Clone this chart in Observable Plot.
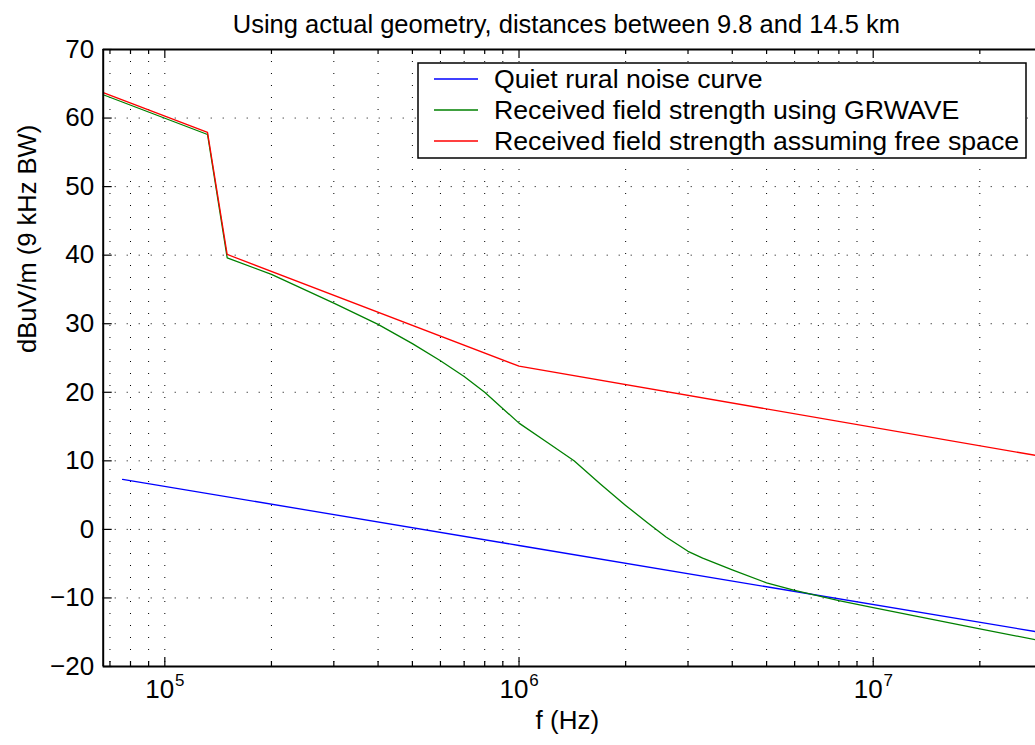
<!DOCTYPE html>
<html><head><meta charset="utf-8">
<script src="https://cdn.jsdelivr.net/npm/d3@7"></script>
<script src="https://cdn.jsdelivr.net/npm/@observablehq/plot@0.6"></script>
<style>body{margin:0;background:#fff;}</style>
</head><body><div id="chart"></div>
<script>
const title = "Using actual geometry, distances between 9.8 and 14.5 km";
const xLabel = "f (Hz)";
const yLabel = "dBuV/m (9 kHz BW)";
const seriesNames = ["Quiet rural noise curve", "Received field strength using GRWAVE", "Received field strength assuming free space"];
const seriesColors = ["#0000ff", "#008000", "#ff0000"];

const noiseFreq = [7.6e4, 1e6, 2.87e7];
const noiseVal = [7.3, -2.35, -14.9];

const grwaveFreq = [6.7e4, 1.32e5, 1.5e5, 2e5, 3e5, 4e5, 5e5, 6e5, 7e5, 8e5, 1e6, 1.2e6, 1.43e6, 1.7e6, 2e6, 2.3e6, 2.6e6, 3e6, 3.3e6, 4e6, 5e6, 6e6, 8e6, 1e7, 2e7, 2.87e7];
const grwaveVal = [63.4, 57.6, 39.6, 37.2, 33.0, 29.9, 27.1, 24.6, 22.3, 20.0, 15.5, 12.7, 10.0, 6.6, 3.5, 1.0, -1.1, -3.2, -4.2, -5.9, -7.8, -8.9, -10.4, -11.4, -14.5, -16.1];

const freeFreq = [6.7e4, 1.32e5, 1.5e5, 1e6, 2.87e7];
const freeVal = [63.7, 57.9, 40.1, 23.8, 10.8];

const xDomain = [66990, 2.872e7];
const yDomain = [-20, 70];
const xMajorTicks = [1e5, 1e6, 1e7];
const xMajorExp = ["5", "6", "7"];
const xMinorTicks = [7e4, 8e4, 9e4, 2e5, 3e5, 4e5, 5e5, 6e5, 7e5, 8e5, 9e5, 2e6, 3e6, 4e6, 5e6, 6e6, 7e6, 8e6, 9e6, 2e7];
const yTicks = [-20, -10, 0, 10, 20, 30, 40, 50, 60, 70];

const data = [
  ...noiseFreq.map((f, i) => ({f, v: noiseVal[i], series: seriesNames[0]})),
  ...grwaveFreq.map((f, i) => ({f, v: grwaveVal[i], series: seriesNames[1]})),
  ...freeFreq.map((f, i) => ({f, v: freeVal[i], series: seriesNames[2]}))
];

const W = 1035, H = 745, mL = 102.7, mR = 0, mT = 49, mB = 79;
const fw = W - mL - mR, fh = H - mT - mB;
const font = "'Liberation Sans', Arial, Helvetica, sans-serif";

const chart = Plot.plot({
  width: W, height: H,
  marginLeft: mL, marginRight: mR, marginTop: mT, marginBottom: mB,
  style: {fontFamily: font, background: "#fff", overflow: "visible"},
  x: {type: "log", domain: xDomain, axis: null},
  y: {domain: yDomain, axis: null},
  color: {domain: seriesNames, range: seriesColors},
  marks: [
    Plot.ruleX([...xMinorTicks, ...xMajorTicks], {stroke: "#000", strokeWidth: 1, strokeDasharray: "1,11"}),
    Plot.ruleY(yTicks.filter(d => d > yDomain[0] && d < yDomain[1]), {stroke: "#000", strokeWidth: 1, strokeDasharray: "1,11"}),
    Plot.line(data, {x: "f", y: "v", stroke: "series", z: "series", strokeWidth: 1.3, clip: true}),
    // spines
    Plot.ruleY(yDomain, {stroke: "#000", strokeWidth: 2}),
    Plot.ruleX([xDomain[0]], {stroke: "#000", strokeWidth: 2}),
    // inward ticks
    Plot.ruleX(xMinorTicks, {stroke: "#000", strokeWidth: 1.2, insetTop: fh - 5}),
    Plot.ruleX(xMinorTicks, {stroke: "#000", strokeWidth: 1.2, insetBottom: fh - 5}),
    Plot.ruleX(xMajorTicks, {stroke: "#000", strokeWidth: 1.2, insetTop: fh - 9}),
    Plot.ruleX(xMajorTicks, {stroke: "#000", strokeWidth: 1.2, insetBottom: fh - 9}),
    Plot.ruleY(yTicks, {stroke: "#000", strokeWidth: 1.2, insetRight: fw - 9}),
    // tick labels
    Plot.text(yTicks, {y: d => d, text: d => d < 0 ? "\u2212" + Math.abs(d) : String(d), frameAnchor: "left", textAnchor: "end", dx: -9, fontSize: 26}),
    Plot.text(xMajorTicks, {x: d => d, text: () => "10", frameAnchor: "bottom", dy: 31.5, dx: -5, fontSize: 26}),
    Plot.text(xMajorTicks, {x: d => d, text: (d, i) => xMajorExp[i], frameAnchor: "bottom", dy: 19, dx: 15, fontSize: 17}),
    // labels
    Plot.text([title], {text: d => d, frameAnchor: "top", dy: -35, dx: -3, fontSize: 25.5}),
    Plot.text([xLabel], {text: d => d, frameAnchor: "bottom", dy: 62, dx: -2, fontSize: 26}),
    Plot.text([yLabel], {text: d => d, frameAnchor: "left", rotate: -90, dx: -75, dy: -5, fontSize: 25.5})
  ]
});

// legend inside the axes
const svg = d3.select(chart);
const lg = svg.append("g").attr("font-family", font).attr("font-size", 26.7).attr("text-anchor", "start");
const box = {x: 418, y: 63, w: 608, h: 95};
lg.append("rect").attr("x", box.x).attr("y", box.y).attr("width", box.w).attr("height", box.h)
  .attr("fill", "#fff").attr("stroke", "#000").attr("stroke-width", 1.5);
const rowY = [79, 110, 141];
seriesNames.forEach((name, i) => {
  lg.append("line").attr("x1", 434).attr("x2", 478).attr("y1", rowY[i]).attr("y2", rowY[i])
    .attr("stroke", seriesColors[i]).attr("stroke-width", 1.3);
  lg.append("text").attr("x", 494).attr("y", rowY[i]).attr("dy", "0.35em").attr("fill", "#000")
    .attr("text-anchor", "start").text(name);
});

document.getElementById("chart").appendChild(chart);
</script>
</body></html>
